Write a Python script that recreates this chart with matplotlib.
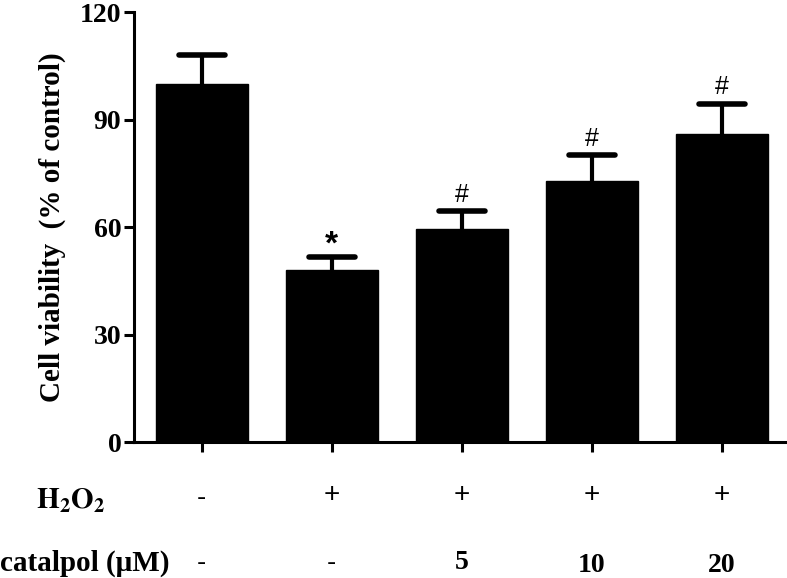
#!/usr/bin/env python

import matplotlib
matplotlib.use("Agg")
import matplotlib.pyplot as plt
import matplotlib.transforms as mtransforms

# cell viability, % of control
groups = ["control", "H2O2", "H2O2+5", "H2O2+10", "H2O2+20"]
means = [100, 48, 59.5, 73, 86]
sems = [8, 3.7, 5, 7, 8.5]
marks = ["", "*", "#", "#", "#"]
h2o2_row = ["-", "+", "+", "+", "+"]
catalpol_row = ["-", "-", "5", "10", "20"]

plt.rcParams["mathtext.fontset"] = "stix"
serif = "Liberation Serif"
sans = "Liberation Sans"

fig = plt.figure(figsize=(7.87, 5.78), dpi=100)
ax = fig.add_axes([0.170, 0.235, 0.830, 0.744])

x = list(range(len(groups)))
ax.bar(x, means, width=0.71, color="black", edgecolor="black", zorder=2)
# upper error bars only
tops = [m + s for m, s in zip(means, sems)]
ax.vlines(x, means, tops, colors="black", linewidth=3, zorder=1)
ax.hlines(tops, [xi - 0.175 for xi in x], [xi + 0.175 for xi in x],
          colors="black", linewidth=4, capstyle="round", zorder=1)

for xi, top, t in zip(x, tops, marks):
    if not t:
        continue
    if t == "*":
        ax.text(xi, top + 3.3, t, ha="center", va="center", fontsize=24,
                family=sans, fontweight="bold")
    else:
        ax.text(xi, top + 4.5, t, ha="center", va="center", fontsize=18,
                family=sans)

ax.set_xlim(-0.523, 4.5)
ax.set_ylim(0, 120)
ax.set_yticks([0, 30, 60, 90, 120])
ax.set_xticks(x)
ax.set_xticklabels([])
for lab in ax.get_yticklabels():
    lab.set_fontfamily(serif)
    lab.set_fontweight("bold")
    lab.set_fontsize(20)
ax.tick_params(axis="both", direction="out", length=7, width=2.2, pad=2)
ax.spines["top"].set_visible(False)
ax.spines["right"].set_visible(False)
ax.spines["left"].set_linewidth(2.2)
ax.spines["bottom"].set_linewidth(2.2)

ax.set_ylabel("Cell viability  (% of control)", fontsize=21, fontweight="bold",
              family=serif, labelpad=10)

# treatment rows under the axis
trans = mtransforms.blended_transform_factory(ax.transData, fig.transFigure)
fig.text(0.090, 0.133, r"$\mathbf{H_2O_2}$", ha="center", va="center", fontsize=21)
fig.text(0.0, 0.026, "catalpol (μM)", ha="left", va="center", fontsize=21,
         fontweight="bold", family=serif)
for xi, a, b in zip(x, h2o2_row, catalpol_row):
    ya = 0.143 if a == "+" else 0.138
    ax.text(xi, ya, a, transform=trans, ha="center", va="center",
            fontsize=20, family=sans)
    if b == "-":
        ax.text(xi, 0.026, b, transform=trans, ha="center", va="center",
                fontsize=20, family=sans)
    else:
        yy = 0.022 if b in ("10", "20") else 0.027
        ax.text(xi, yy, b, transform=trans, ha="center", va="center",
                fontsize=20, family=serif, fontweight="bold")

plt.savefig("out.png", dpi=100)
